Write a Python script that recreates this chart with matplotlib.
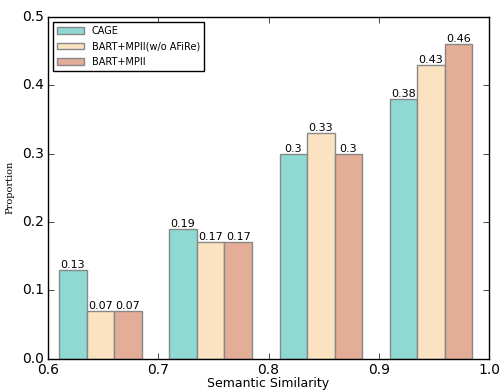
import numpy as np
from matplotlib import pyplot as plt

plt.style.use('classic')

bins = [0.61, 0.71, 0.81, 0.91]
names = ["CAGE", "BART+MPII(w/o AFiRe)", "BART+MPII"]
cage = [0.13, 0.19, 0.3, 0.38]
wo_afire = [0.07, 0.17, 0.33, 0.43]
mpii = [0.07, 0.17, 0.3, 0.46]
colors = ["#8ed9d4", "#fbe3c1", "#e3ad98"]

w = 0.025
fig = plt.figure(figsize=(5, 3.92), dpi=100, facecolor='white')
ax = fig.add_axes([0.096, 0.085, 0.882, 0.872])

x = np.array(bins)
for i, (vals, name) in enumerate(zip([cage, wo_afire, mpii], names)):
    bars = ax.bar(x + i * w, vals, w, align='edge', color=colors[i],
                  edgecolor='#888888', linewidth=1, label=name)
    ax.bar_label(bars, labels=[str(v) for v in vals], fontsize=8, padding=0)

ax.set_xlim(0.6, 1.0)
ax.set_ylim(0, 0.5)
ax.set_xticks([0.6, 0.7, 0.8, 0.9, 1.0])
ax.set_yticks([0.0, 0.1, 0.2, 0.3, 0.4, 0.5])
ax.tick_params(labelsize=10, pad=3)
ax.set_xlabel("Semantic Similarity", fontsize=9, labelpad=0)
ax.set_ylabel("Proportion", fontsize=7, family='serif')
leg = ax.legend(loc='upper left', fontsize=7, fancybox=False,
                handlelength=2.8, borderaxespad=0.5, labelspacing=0.6)

plt.savefig('out.png', dpi=100, facecolor='white')
